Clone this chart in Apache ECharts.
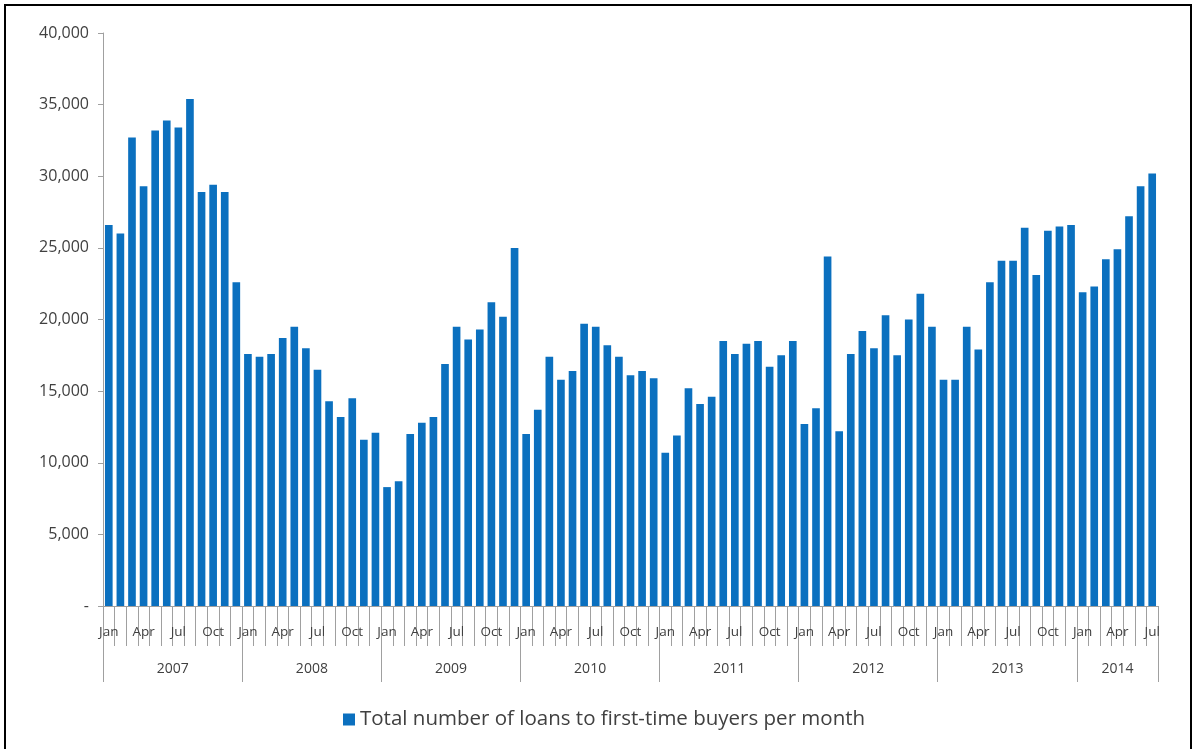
<!DOCTYPE html>
<html>
<head>
<meta charset="utf-8">
<script src="https://cdn.jsdelivr.net/npm/echarts@6/dist/echarts.min.js"></script>
<style>
  html, body { margin: 0; padding: 0; background: #fff; }
  #frame {
    position: absolute; left: 4px; top: 4px;
    width: 1184px; height: 760px;
    border: 2px solid #000;
  }
  #chart { position: absolute; left: 0; top: 0; width: 1195px; height: 749px; }
</style>
</head>
<body>
<div id="frame"></div>
<div id="chart"></div>
<script>
  // loans to first-time buyers, monthly
  const months = ['Jan', 'Feb', 'Mar', 'Apr', 'May', 'Jun', 'Jul', 'Aug', 'Sep', 'Oct', 'Nov', 'Dec']
  const years = ['2007', '2008', '2009', '2010', '2011', '2012', '2013', '2014']
  const y2007 = [26600, 26000, 32700, 29300, 33200, 33900, 33400, 35400, 28900, 29400, 28900, 22600]
  const y2008 = [17600, 17400, 17600, 18700, 19500, 18000, 16500, 14300, 13200, 14500, 11600, 12100]
  const y2009 = [8300, 8700, 12000, 12800, 13200, 16900, 19500, 18600, 19300, 21200, 20200, 25000]
  const y2010 = [12000, 13700, 17400, 15800, 16400, 19700, 19500, 18200, 17400, 16100, 16400, 15900]
  const y2011 = [10700, 11900, 15200, 14100, 14600, 18500, 17600, 18300, 18500, 16700, 17500, 18500]
  const y2012 = [12700, 13800, 24400, 12200, 17600, 19200, 18000, 20300, 17500, 20000, 21800, 19500]
  const y2013 = [15800, 15800, 19500, 17900, 22600, 24100, 24100, 26400, 23100, 26200, 26500, 26600]
  const y2014 = [21900, 22300, 24200, 24900, 27200, 29300, 30200]
  const seriesName = 'Total number of loans to first-time buyers per month'

  const yearData = [y2007, y2008, y2009, y2010, y2011, y2012, y2013, y2014]
  let cats = [], yearOf = [], values = []
  yearData.forEach((arr, yi) => {
    arr.forEach((v, mi) => {
      cats.push(months[mi])
      yearOf.push(years[yi])
      values.push(v)
    })
  })

  // index where each year's label goes (middle of its months)
  let yearMid = {}
  yearData.forEach((arr, yi) => {
    let start = yearData.slice(0, yi).reduce((s, a) => s + a.length, 0)
    yearMid[Math.floor(start + (arr.length - 1) / 2)] = arr.length % 2 === 0 ? 'a' : 'b'
  })

  const textColor = '#404040'
  const lineColor = '#a0a0a0'
  const font = '"Open Sans", "Liberation Sans", sans-serif'

  let myChart = echarts.init(document.getElementById('chart'))
  myChart.setOption({
    animation: false,
    textStyle: { fontFamily: font },
    grid: { left: 103, right: 37, top: 33, bottom: 143, containLabel: false },
    legend: {
      left: 338,
      top: 704,
      icon: 'rect',
      itemWidth: 12,
      itemHeight: 12,
      itemGap: 6,
      textStyle: { color: textColor, fontSize: 20.5, fontFamily: font },
      data: [seriesName]
    },
    xAxis: [
      {
        type: 'category',
        data: cats,
        position: 'bottom',
        axisLine: { show: true, lineStyle: { color: lineColor, width: 1 } },
        axisTick: { show: true, interval: 0, length: 40, lineStyle: { color: lineColor } },
        axisLabel: {
          interval: 2,
          margin: 19,
          color: textColor,
          fontSize: 13.5
        }
      },
      {
        type: 'category',
        data: yearOf,
        position: 'bottom',
        axisLine: { show: false },
        axisTick: {
          show: true,
          interval: (i) => i % 12 === 0,
          length: 76,
          lineStyle: { color: lineColor }
        },
        axisLabel: {
          interval: (i) => yearMid[i] !== undefined,
          margin: 56,
          color: textColor,
          fontSize: 14,
          formatter: (v, i) => yearMid[i] === 'a' ? '{a|' + v + '}' : '{b|' + v + '}',
          rich: {
            a: { padding: [0, 0, 0, 12], color: textColor, fontSize: 14, fontFamily: font },
            b: { color: textColor, fontSize: 14, fontFamily: font }
          }
        }
      }
    ],
    yAxis: {
      type: 'value',
      min: 0,
      max: 40000,
      interval: 5000,
      axisLine: { show: true, lineStyle: { color: lineColor } },
      axisTick: { show: true, length: 5, lineStyle: { color: lineColor } },
      splitLine: { show: false },
      axisLabel: {
        margin: 14,
        color: textColor,
        fontSize: 16,
        formatter: (v) => v === 0 ? '-' : v.toLocaleString('en-US')
      }
    },
    series: [
      {
        name: seriesName,
        type: 'bar',
        xAxisIndex: 0,
        data: values,
        barCategoryGap: '34%',
        itemStyle: { color: '#0b70bf' }
      }
    ]
  })
</script>
</body>
</html>
